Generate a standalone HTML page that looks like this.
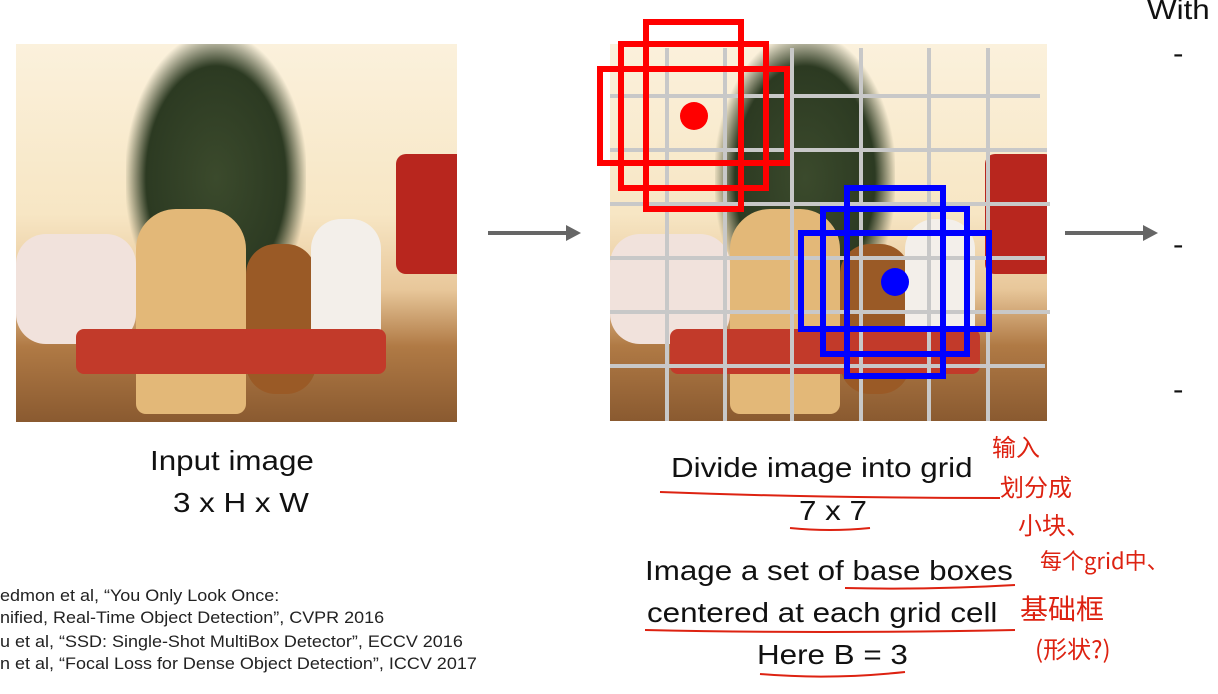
<!DOCTYPE html>
<html><head><meta charset="utf-8"><style>
body{margin:0;width:1218px;height:694px;background:#fff;position:relative;overflow:hidden;font-family:"Liberation Sans","Noto Sans CJK SC",sans-serif;color:#111}
.a{position:absolute}
.t{position:absolute;white-space:nowrap;font-size:28px;color:#111;transform:scaleX(1.12);transform-origin:0 0}
.r{position:absolute;white-space:nowrap;font-size:16.5px;color:#222;transform:scaleX(1.09);transform-origin:0 0}
.hw{position:absolute;white-space:nowrap;color:#d21;font-family:"Noto Sans CJK SC",sans-serif;font-size:24px}
.photo{position:absolute;overflow:hidden;background:linear-gradient(180deg,#fbf1dc 0%,#f7e6c4 45%,#e8c79a 65%,#b07a45 80%,#8a5a30 100%)}
</style></head><body>
<div class="photo" style="left:16px;top:44px;width:441px;height:378px">
 <div class="a" style="left:110px;top:-10px;width:180px;height:240px;background:radial-gradient(ellipse at 50% 60%,#3b4a2c 0%,#2c3a22 55%,rgba(44,58,34,0) 72%)"></div>
 <div class="a" style="left:380px;top:110px;width:70px;height:120px;background:#b8261e;border-radius:10px"></div>
 <div class="a" style="left:0;top:190px;width:120px;height:110px;background:#f1e2dc;border-radius:30px"></div>
 <div class="a" style="left:120px;top:165px;width:110px;height:205px;background:#e3b878;border-radius:40px 40px 10px 10px"></div>
 <div class="a" style="left:230px;top:200px;width:70px;height:150px;background:#9a5a26;border-radius:30px"></div>
 <div class="a" style="left:295px;top:175px;width:70px;height:140px;background:#f3efea;border-radius:30px"></div>
 <div class="a" style="left:60px;top:285px;width:310px;height:45px;background:#c23a2a;border-radius:8px"></div>
</div>
<div class="a" style="left:488px;top:231px;width:80px;height:4px;background:#666"></div>
<div class="a" style="left:566px;top:225px;border-left:15px solid #666;border-top:8px solid transparent;border-bottom:8px solid transparent"></div>
<div class="a" style="left:1065px;top:231px;width:80px;height:4px;background:#666"></div>
<div class="a" style="left:1143px;top:225px;border-left:15px solid #666;border-top:8px solid transparent;border-bottom:8px solid transparent"></div>

<div class="photo" style="left:610px;top:44px;width:437px;height:377px">
 <div class="a" style="left:105px;top:-10px;width:180px;height:240px;background:radial-gradient(ellipse at 50% 60%,#3b4a2c 0%,#2c3a22 55%,rgba(44,58,34,0) 72%)"></div>
 <div class="a" style="left:375px;top:110px;width:70px;height:120px;background:#b8261e;border-radius:10px"></div>
 <div class="a" style="left:0;top:190px;width:120px;height:110px;background:#f1e2dc;border-radius:30px"></div>
 <div class="a" style="left:120px;top:165px;width:110px;height:205px;background:#e3b878;border-radius:40px 40px 10px 10px"></div>
 <div class="a" style="left:230px;top:200px;width:70px;height:150px;background:#9a5a26;border-radius:30px"></div>
 <div class="a" style="left:295px;top:175px;width:70px;height:140px;background:#f3efea;border-radius:30px"></div>
 <div class="a" style="left:60px;top:285px;width:310px;height:45px;background:#c23a2a;border-radius:8px"></div>
</div>
<svg class="a" style="left:0;top:0" width="1218" height="694">
 <g stroke="#c8c8c8" stroke-width="4">
  <line x1="667" y1="48" x2="667" y2="421"/><line x1="725" y1="48" x2="725" y2="421"/><line x1="792" y1="48" x2="792" y2="421"/>
  <line x1="861" y1="48" x2="861" y2="421"/><line x1="929" y1="48" x2="929" y2="421"/><line x1="988" y1="48" x2="988" y2="421"/>
  <line x1="610" y1="96" x2="1040" y2="96"/><line x1="610" y1="150" x2="1047" y2="150"/><line x1="610" y1="204" x2="1050" y2="204"/>
  <line x1="610" y1="258" x2="1045" y2="258"/><line x1="610" y1="312" x2="1050" y2="312"/><line x1="610" y1="366" x2="1045" y2="366"/>
 </g>
 <g fill="none" stroke="#f00" stroke-width="6">
  <rect x="646" y="22" width="95" height="187"/><rect x="621" y="44" width="145" height="144"/><rect x="600" y="69" width="187" height="94"/>
 </g>
 <circle cx="694" cy="116" r="14" fill="#f00"/>
 <g fill="none" stroke="#00f" stroke-width="6">
  <rect x="847" y="188" width="96" height="188"/><rect x="823" y="209" width="144" height="145"/><rect x="801" y="233" width="188" height="96"/>
 </g>
 <circle cx="895" cy="282" r="14" fill="#00f"/>
 <g stroke="#d21" stroke-width="2" fill="none">
  <path d="M660 492 Q820 498 1000 498"/><path d="M790 528 Q830 532 870 528"/><path d="M845 588 Q930 590 1015 585"/>
  <path d="M645 630 Q820 634 1015 630"/><path d="M760 674 Q830 680 905 672"/>
 </g>
</svg>
<div class="t" style="left:150px;top:445px">Input image</div>
<div class="t" style="left:173px;top:487px">3 x H x W</div>
<div class="t" style="left:671px;top:452px">Divide image into grid</div>
<div class="t" style="left:799px;top:495px">7 x 7</div>
<div class="t" style="left:645px;top:555px">Image a set of base boxes</div>
<div class="t" style="left:647px;top:597px">centered at each grid cell</div>
<div class="t" style="left:757px;top:639px">Here B = 3</div>
<div class="t" style="left:1147px;top:-6px">With</div>
<div class="t" style="left:1173px;top:38px">-</div>
<div class="t" style="left:1173px;top:229px">-</div>
<div class="t" style="left:1173px;top:374px">-</div>
<div class="r" style="left:0;top:587px">edmon et al, “You Only Look Once:</div>
<div class="r" style="left:0;top:609px">nified, Real-Time Object Detection”, CVPR 2016</div>
<div class="r" style="left:0;top:633px">u et al, “SSD: Single-Shot MultiBox Detector”, ECCV 2016</div>
<div class="r" style="left:0;top:655px">n et al, “Focal Loss for Dense Object Detection”, ICCV 2017</div>
<div class="hw" style="left:992px;top:428px">输入</div>
<div class="hw" style="left:1000px;top:468px">划分成</div>
<div class="hw" style="left:1018px;top:506px">小块、</div>
<div class="hw" style="left:1040px;top:544px;font-size:22px">每个grid中、</div>
<div class="hw" style="left:1020px;top:588px;font-size:28px">基础框</div>
<div class="hw" style="left:1035px;top:630px">(形状?)</div>
</body></html>
